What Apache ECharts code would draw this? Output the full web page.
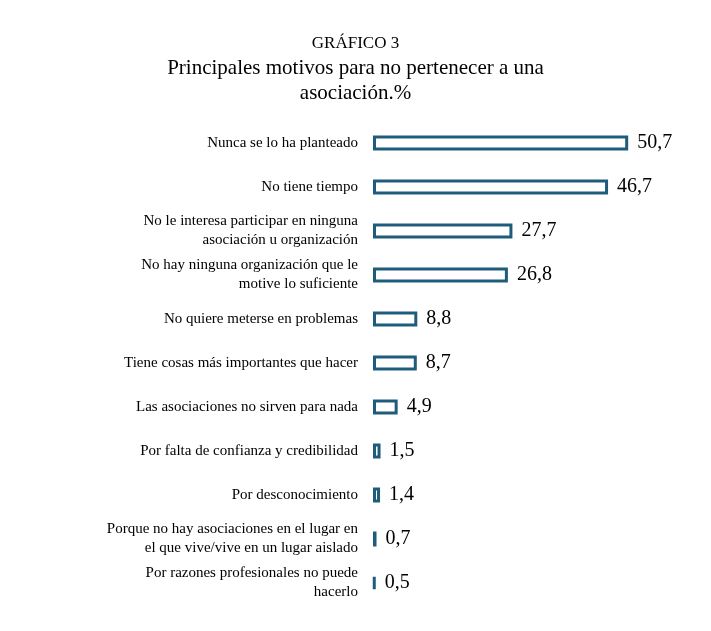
<!DOCTYPE html>
<html>
<head>
<meta charset="utf-8">
<script src="https://cdn.jsdelivr.net/npm/echarts@6/dist/echarts.min.js"></script>
<style>html,body{margin:0;background:#fff}#main{width:711px;height:631px}</style>
</head>
<body>
<div id="main"></div>
<script>
const categorias = [
  'Nunca se lo ha planteado',
  'No tiene tiempo',
  'No le interesa participar en ninguna\nasociación u organización',
  'No hay ninguna organización que le\nmotive lo suficiente',
  'No quiere meterse en problemas',
  'Tiene cosas más importantes que hacer',
  'Las asociaciones no sirven para nada',
  'Por falta de confianza y credibilidad',
  'Por desconocimiento',
  'Porque no hay asociaciones en el lugar en\nel que vive/vive en un lugar aislado',
  'Por razones profesionales no puede\nhacerlo'
];
const valores = [50.7, 46.7, 27.7, 26.8, 8.8, 8.7, 4.9, 1.5, 1.4, 0.7, 0.5];

var myChart = echarts.init(document.getElementById('main'));
var fuente = '"Liberation Serif", "Times New Roman", serif';

var option = {
  title: {
    text: 'GRÁFICO 3',
    subtext: 'Principales motivos para no pertenecer a una\nasociación.%',
    left: 'center',
    top: 30,
    itemGap: 4,
    textStyle: { fontFamily: fuente, fontSize: 17, fontWeight: 'normal', color: '#000' },
    subtextStyle: { fontFamily: fuente, fontSize: 21, color: '#000', lineHeight: 25 }
  },
  grid: { left: 373, right: 36, top: 121, bottom: 26 },
  xAxis: { type: 'value', min: 0, max: 60, show: false },
  yAxis: {
    type: 'category',
    inverse: true,
    data: categorias,
    axisLine: { show: false },
    axisTick: { show: false },
    axisLabel: { fontFamily: fuente, fontSize: 15, color: '#000', margin: 15, lineHeight: 19 }
  },
  series: [{
    type: 'bar',
    data: valores,
    barWidth: 15,
    itemStyle: { color: '#fff', borderColor: '#1f5c7c', borderWidth: 3 },
    label: {
      show: true,
      position: 'right',
      distance: 9,
      fontFamily: fuente,
      fontSize: 20,
      color: '#000',
      formatter: p => String(p.value).replace('.', ',')
    }
  }]
};
option && myChart.setOption(option);
</script>
</body>
</html>
